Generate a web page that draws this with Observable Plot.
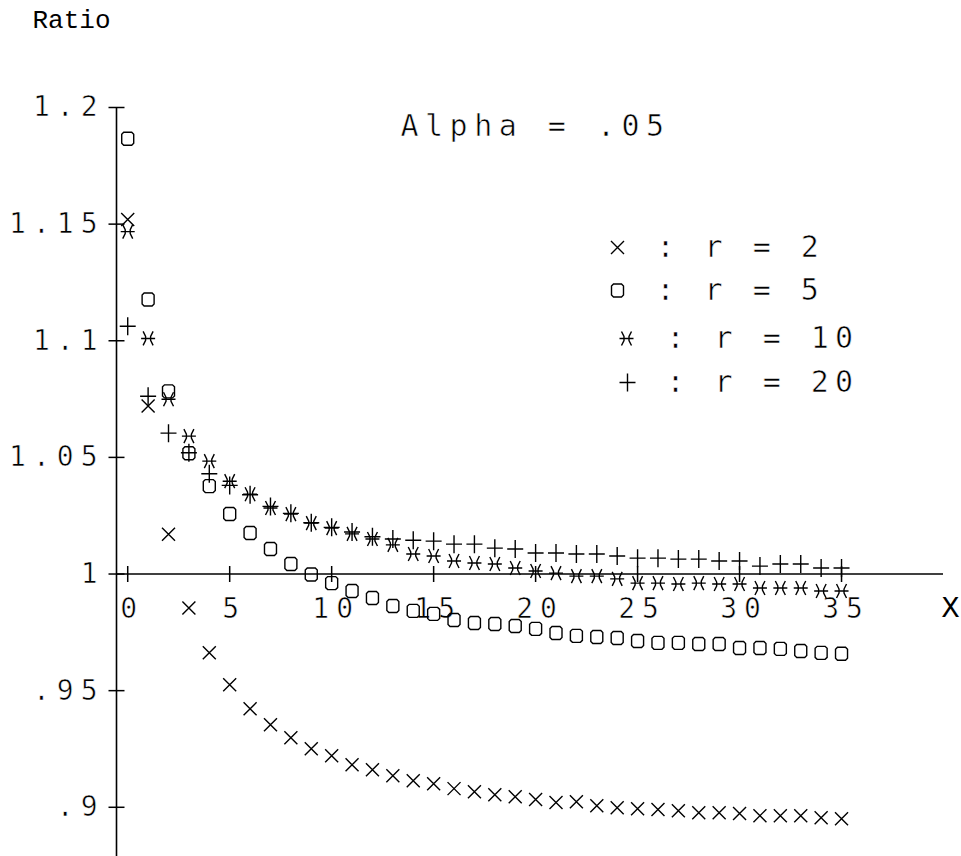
<!DOCTYPE html>
<html>
<head>
<meta charset="utf-8">
<script src="https://cdn.jsdelivr.net/npm/d3@7"></script>
<script src="https://cdn.jsdelivr.net/npm/@observablehq/plot@0.6"></script>
<style>
  html, body { margin: 0; padding: 0; background: #fff; }
  svg text { font-variant-numeric: slashed-zero; }
  g[aria-description="ytick-labels"] text { letter-spacing: 7px; }
  g[aria-description="xtick-labels"] text { letter-spacing: 7px; }
  g[aria-description="title"] text { letter-spacing: 6.5px; }
  g[aria-description="legend-text"] text { letter-spacing: 6px; }
  g[aria-description="ytick-labels"] text, g[aria-description="xtick-labels"] text,
  g[aria-description="title"] text, g[aria-description="legend-text"] text {
    stroke: white; stroke-width: 0.6px; paint-order: normal;
  }
</style>
</head>
<body>
<div id="chart"></div>
<script>
// ---- data ----
const xValues = d3.range(0, 36); // X = 0 .. 35
const seriesLabels = [": r = 2", ": r = 5", ": r = 10", ": r = 20"];

const ratioR2 = [1.152, 1.072, 1.017, 0.9854, 0.9662, 0.9525, 0.9422, 0.9354, 0.9298, 0.9251,
  0.9221, 0.9182, 0.9161, 0.9135, 0.9114, 0.9101, 0.9080, 0.9067, 0.9054, 0.9045,
  0.9033, 0.9020, 0.9024, 0.9007, 0.8998, 0.8994, 0.8990, 0.8985, 0.8977, 0.8977,
  0.8973, 0.8964, 0.8964, 0.8964, 0.8955, 0.8951];
const ratioR5 = [1.1866, 1.1177, 1.0783, 1.0518, 1.0377, 1.0257, 1.0176, 1.0107, 1.0043, 0.9998,
  0.9961, 0.9927, 0.9897, 0.9863, 0.9842, 0.9829, 0.9803, 0.9790, 0.9786, 0.9777,
  0.9765, 0.9747, 0.9735, 0.9730, 0.9726, 0.9713, 0.9705, 0.9705, 0.9700, 0.9700,
  0.9683, 0.9683, 0.9679, 0.9670, 0.9662, 0.9658];
const ratioR10 = [1.1468, 1.1010, 1.0749, 1.0591, 1.0484, 1.0398, 1.0342, 1.0283, 1.0257, 1.0218,
  1.0197, 1.0172, 1.0150, 1.0125, 1.0086, 1.0077, 1.0056, 1.0047, 1.0043, 1.0026,
  1.0013, 1.0004, 0.9991, 0.9991, 0.9979, 0.9961, 0.9961, 0.9957, 0.9961, 0.9957,
  0.9957, 0.9940, 0.9940, 0.9940, 0.9927, 0.9927];
const ratioR20 = [1.1062, 1.0762, 1.0604, 1.0520, 1.0430, 1.0380, 1.0340, 1.0290, 1.0260, 1.0220,
  1.0200, 1.0180, 1.0160, 1.0150, 1.0145, 1.0141, 1.0128, 1.0128, 1.0111, 1.0107,
  1.0090, 1.0090, 1.0086, 1.0086, 1.0077, 1.0068, 1.0068, 1.0064, 1.0064, 1.0056,
  1.0056, 1.0034, 1.0043, 1.0043, 1.0026, 1.0026];

const xTicks = [0, 5, 10, 15, 20, 25, 30, 35];
const xTickLabels = ["0", "5", "10", "15", "20", "25", "30", "35"];
const yTicks = [1.2, 1.15, 1.1, 1.05, 1, 0.95, 0.9];
const yTickLabels = ["1.2", "1.15", "1.1", "1.05", "1", ".95", ".9"];
const titleText = "Alpha = .05";
const yLabel = "Ratio";
const xLabel = "X";

// ---- scale extents ----
const xDomain = [-0.55, 40];
const yDomain = [0.8789, 1.2];

// ---- marker glyphs (plotter style) ----
const symTimes = {draw(c) { const s = 6.5; c.moveTo(-s, -s); c.lineTo(s, s); c.moveTo(-s, s); c.lineTo(s, -s); }};
const symBox = {draw(c) {
  const w = 6, h = 6.5, k = 2;
  c.moveTo(-w + k, -h); c.lineTo(w - k, -h); c.lineTo(w, -h + k); c.lineTo(w, h - k);
  c.lineTo(w - k, h); c.lineTo(-w + k, h); c.lineTo(-w, h - k); c.lineTo(-w, -h + k); c.closePath();
}};
const symStar = {draw(c) {
  c.moveTo(-7, 0); c.lineTo(7, 0);
  c.moveTo(-5, -7); c.lineTo(-2.5, -2); c.lineTo(-2.5, 2); c.lineTo(-5, 7);
  c.moveTo(5, -7); c.lineTo(2.5, -2); c.lineTo(2.5, 2); c.lineTo(5, 7);
}};
const symPlus = {draw(c) { c.moveTo(-8, 0); c.lineTo(8, 0); c.moveTo(0, -9); c.lineTo(0, 9); }};
const symHTick = {draw(c) { c.moveTo(-8, 0); c.lineTo(8, 0); }};
const symVTick = {draw(c) { c.moveTo(0, -8); c.lineTo(0, 8); }};

const seriesValues = [ratioR2, ratioR5, ratioR10, ratioR20];
const seriesSymbols = [symTimes, symBox, symStar, symPlus];
const tables = seriesValues.map(vals => xValues.map((x, i) => ({x, ratio: vals[i]})));

const monoFont = "DejaVu Sans Mono";
const serifMono = "Liberation Mono";

// legend layout
const legendRowsDy = [140, 183, 231, 275];
const legendSymDx = [501, 501, 510, 511];
const legendTextDx = [540, 540, 550, 550];

const marks = [
  // axes lines
  Plot.ruleX([xDomain[0]], {stroke: "black", strokeWidth: 1.6}),
  Plot.ruleY([1], {stroke: "black", strokeWidth: 1.4}),
  // tick marks crossing the axes
  Plot.dot(yTicks, {x: () => xDomain[0], y: d => d, symbol: symHTick, fill: "none", stroke: "black", strokeWidth: 1.5}),
  Plot.dot(xTicks, {x: d => d, y: () => 1, symbol: symVTick, fill: "none", stroke: "black", strokeWidth: 1.5}),
  // tick labels
  Plot.text(yTicks, {x: () => xDomain[0], y: d => d, text: (d, i) => yTickLabels[i], textAnchor: "end",
    dx: -12, lineAnchor: "middle", fontFamily: monoFont, fontSize: 28, fill: "black", ariaDescription: "ytick-labels"}),
  Plot.text(xTicks, {x: d => d, y: () => 1, text: (d, i) => xTickLabels[i], textAnchor: "middle",
    dx: 4.5, dy: 24, lineAnchor: "top", fontFamily: monoFont, fontSize: 28, fill: "black", ariaDescription: "xtick-labels"}),
  // axis titles
  Plot.text([yLabel], {frameAnchor: "top-left", dx: -84, dy: -98, textAnchor: "start", lineAnchor: "top",
    fontFamily: serifMono, fontSize: 26, fill: "black", text: d => d}),
  Plot.text([xLabel], {frameAnchor: "top-right", dx: 7, dy: 488, textAnchor: "middle", lineAnchor: "top",
    fontFamily: serifMono, fontSize: 30, fill: "black", text: d => d}),
  // title
  Plot.text([titleText], {frameAnchor: "top-left", dx: 284, dy: 7, textAnchor: "start", lineAnchor: "top",
    fontFamily: monoFont, fontSize: 30, fill: "black", text: d => d, ariaDescription: "title"}),
  // series
  ...tables.map((t, k) => Plot.dot(t, {x: "x", y: "ratio", symbol: seriesSymbols[k], fill: "none", stroke: "black", strokeWidth: 1.4})),
  // legend
  ...seriesLabels.flatMap((lab, k) => [
    Plot.dot([lab], {frameAnchor: "top-left", dx: legendSymDx[k], dy: legendRowsDy[k], symbol: seriesSymbols[k],
      fill: "none", stroke: "black", strokeWidth: 1.4}),
    Plot.text([lab], {frameAnchor: "top-left", dx: legendTextDx[k], dy: legendRowsDy[k], textAnchor: "start",
      lineAnchor: "middle", fontFamily: monoFont, fontSize: 30, fill: "black", text: d => d, ariaDescription: "legend-text"})
  ])
];

const chart = Plot.plot({
  width: 961,
  height: 856,
  marginLeft: 116,
  marginRight: 18,
  marginTop: 107,
  marginBottom: 0,
  x: {domain: xDomain, axis: null},
  y: {domain: yDomain, axis: null},
  style: {background: "white", color: "black", overflow: "visible"},
  marks
});
document.getElementById("chart").appendChild(chart);
</script>
</body>
</html>
